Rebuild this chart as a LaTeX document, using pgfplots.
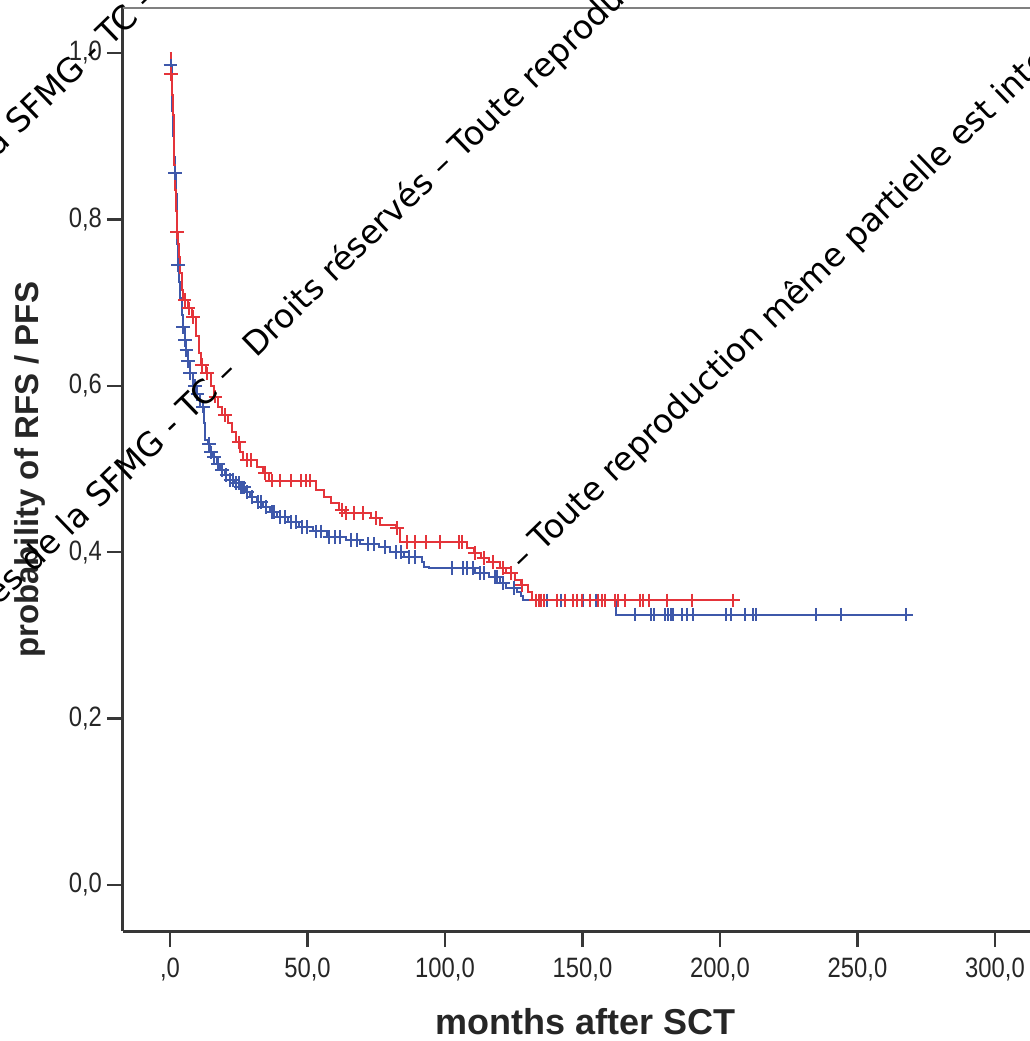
\documentclass[border=0pt]{standalone}
\usepackage{fontspec}
\setmainfont{Liberation Sans}
\newfontfamily\tickfont[FakeStretch=0.85]{Liberation Sans}
\newfontfamily\wmfont{DejaVu Sans}
\usepackage{pgfplots}
\pgfplotsset{compat=1.18}

\definecolor{kmred}{RGB}{228,52,58}
\definecolor{kmblue}{RGB}{62,88,170}
\definecolor{axgray}{RGB}{55,55,55}

% red group: step curve (month, survival)
\pgfplotstableread{
t S
0 1.000
0.2 0.985
0.4 0.975
0.7 0.950
1.0 0.925
1.3 0.895
1.6 0.865
1.9 0.835
2.2 0.810
2.5 0.785
2.9 0.770
3.3 0.755
3.8 0.735
4.3 0.715
4.9 0.703
6.5 0.693
8.0 0.683
9.5 0.660
10.5 0.640
11.2 0.625
13.0 0.615
14.8 0.600
16.0 0.587
17.5 0.575
19.0 0.565
21.0 0.555
22.5 0.545
24.0 0.532
25.5 0.521
26.5 0.511
31.5 0.503
33.8 0.495
36.0 0.486
53.0 0.475
56.0 0.466
58.5 0.459
61.5 0.451
63.5 0.447
73.0 0.441
76.5 0.433
82.0 0.429
83.5 0.412
108.0 0.405
110.5 0.399
113.0 0.393
116.0 0.388
120.0 0.381
122.0 0.375
125.5 0.367
127.5 0.360
130.0 0.352
131.5 0.342
207.0 0.342
}\redcurve

\pgfplotstableread{
t S
0.4 0.975
2.6 0.785
5.3 0.703
6.8 0.693
8.4 0.683
11.6 0.625
13.5 0.615
16.5 0.587
20.0 0.565
25.0 0.532
28.0 0.511
29.5 0.511
34.5 0.495
37.0 0.486
40.0 0.486
44.0 0.486
47.5 0.486
49.5 0.486
51.0 0.486
62.5 0.451
64.0 0.447
67.0 0.447
70.0 0.447
75.0 0.441
82.5 0.429
86.0 0.412
89.0 0.412
93.0 0.412
98.0 0.412
105.0 0.412
106.0 0.412
111.0 0.399
114.0 0.393
117.5 0.388
121.0 0.381
124.0 0.375
128.0 0.360
133.0 0.342
134.0 0.342
135.0 0.342
136.0 0.342
140.6 0.342
143.6 0.342
146.7 0.342
148.0 0.342
149.7 0.342
152.7 0.342
155.8 0.342
157.0 0.342
158.0 0.342
161.8 0.342
163.0 0.342
165.5 0.342
171.0 0.342
172.0 0.342
174.0 0.342
180.6 0.342
189.7 0.342
204.8 0.342
}\redcens

% blue group
\pgfplotstableread{
t S
0 1.000
0.3 0.985
0.6 0.960
0.9 0.930
1.2 0.900
1.5 0.875
1.8 0.856
2.1 0.830
2.4 0.800
2.7 0.770
2.9 0.745
3.3 0.725
3.8 0.705
4.3 0.685
4.7 0.671
5.3 0.655
5.9 0.643
6.5 0.630
7.1 0.615
8.4 0.600
9.5 0.590
10.9 0.575
12.3 0.555
12.6 0.535
13.8 0.530
14.6 0.520
15.6 0.514
17.0 0.506
18.2 0.499
20.0 0.493
21.8 0.487
23.5 0.483
25.5 0.478
27.5 0.472
29.1 0.466
31.5 0.460
33.8 0.454
36.5 0.448
38.9 0.442
43.0 0.436
47.0 0.430
52.0 0.425
57.0 0.418
64.0 0.415
69.0 0.410
76.0 0.406
80.0 0.400
85.0 0.394
91.5 0.388
92.5 0.382
94.0 0.381
111.0 0.375
116.0 0.370
120.0 0.363
122.0 0.357
126.0 0.352
127.5 0.347
128.5 0.342
162.0 0.325
269.5 0.325
}\bluecurve

\pgfplotstableread{
t S
0.2 0.985
1.8 0.856
2.9 0.745
4.7 0.671
5.5 0.655
6.0 0.643
6.6 0.630
7.3 0.615
9.0 0.600
10.0 0.590
12.0 0.575
14.2 0.530
15.0 0.520
16.0 0.514
17.5 0.506
19.0 0.499
20.5 0.493
22.0 0.487
23.0 0.487
24.0 0.483
25.0 0.483
25.7 0.478
26.2 0.478
27.0 0.478
28.0 0.472
30.0 0.466
32.0 0.460
33.0 0.460
35.0 0.454
37.0 0.448
38.0 0.448
40.0 0.442
42.0 0.442
44.0 0.436
46.0 0.436
48.0 0.430
50.0 0.430
53.0 0.425
55.0 0.425
58.0 0.418
60.0 0.418
62.0 0.418
66.0 0.415
68.0 0.415
72.0 0.410
74.0 0.410
78.0 0.406
82.0 0.400
84.0 0.400
87.0 0.394
89.0 0.394
102.5 0.381
106.5 0.381
108.0 0.381
110.0 0.381
112.7 0.375
114.0 0.375
118.0 0.370
119.0 0.370
121.0 0.363
125.0 0.357
133.0 0.342
137.0 0.342
142.0 0.342
150.0 0.342
155.0 0.342
169.0 0.325
175.0 0.325
176.0 0.325
180.0 0.325
181.0 0.325
182.0 0.325
183.0 0.325
186.0 0.325
188.0 0.325
190.0 0.325
202.0 0.325
204.0 0.325
209.0 0.325
212.0 0.325
213.0 0.325
235.0 0.325
244.0 0.325
267.6 0.325
}\bluecens

\begin{document}
\begin{tikzpicture}
\begin{axis}[
    at={(0,0)}, anchor=south west,
    scale only axis,
    width=458.5pt, height=462pt,
    xmin=-17.09, xmax=316.36,
    ymin=-0.0553, ymax=1.0553,
    axis x line*=bottom, axis y line*=left,
    axis line style={-, line width=1.5pt, draw=axgray},
    tick align=outside,
    major tick length=8pt,
    tick style={line width=1.2pt, draw=axgray},
    xtick={0,50,100,150,200,250,300},
    xticklabels={{,0},{50,0},{100,0},{150,0},{200,0},{250,0},{300,0}},
    ytick={0,0.2,0.4,0.6,0.8,1},
    yticklabels={{0,0},{0,2},{0,4},{0,6},{0,8},{1,0}},
    ticklabel style={font=\tickfont\fontsize{14}{14}\selectfont, text=black!85},
    xticklabel style={yshift=-2pt},
    yticklabel style={xshift=1pt},
    xlabel={months after SCT},
    ylabel={probability of RFS / PFS},
    xlabel style={font=\bfseries\fontsize{18}{18}\selectfont, text=black!85,
        at={(axis description cs:0.504,-0.098)}, anchor=center},
    ylabel style={font=\bfseries\fontsize{16.5}{16.5}\selectfont, text=black!85,
        at={(axis description cs:-0.1014,0.499)}, anchor=center, rotate=0},
]
\addplot[const plot, kmblue, line width=1pt] table[x=t,y=S] {\bluecurve};
\addplot[only marks, mark=+, mark size=3.4pt, kmblue, mark options={line width=1pt}] table[x=t,y=S] {\bluecens};
\addplot[const plot, kmred, line width=1pt] table[x=t,y=S] {\redcurve};
\addplot[only marks, mark=+, mark size=3.4pt, kmred, mark options={line width=1pt}] table[x=t,y=S] {\redcens};
\draw[line width=1.6pt, draw=black!50] (rel axis cs:0,1) -- (rel axis cs:1,1);
\end{axis}
% watermark overlay, in pixel units of the source image
\begin{scope}[shift={(-61.5pt,465.5pt)}, x=0.5pt, y=-0.5pt,
    wm/.style={font=\wmfont\fontsize{16.5}{16.5}\selectfont, rotate=44, inner sep=0pt}]
  \node[wm, anchor=base east] at (240,374) {Droits réservés de la SFMG - TC –};
  \node[wm, anchor=base west] at (256,359) {Droits réservés – Toute reproduction même partielle est interdite};
  \node[wm, anchor=base east] at (160,0) {Droits réservés de la SFMG - TC –};
  \node[wm, anchor=base west] at (523,572) {– Toute reproduction même partielle est interdite};
\end{scope}
\pgfresetboundingbox
\path[use as bounding box] (-61.5pt,-55pt) rectangle (453.5pt,465.5pt);
\end{tikzpicture}
\end{document}
